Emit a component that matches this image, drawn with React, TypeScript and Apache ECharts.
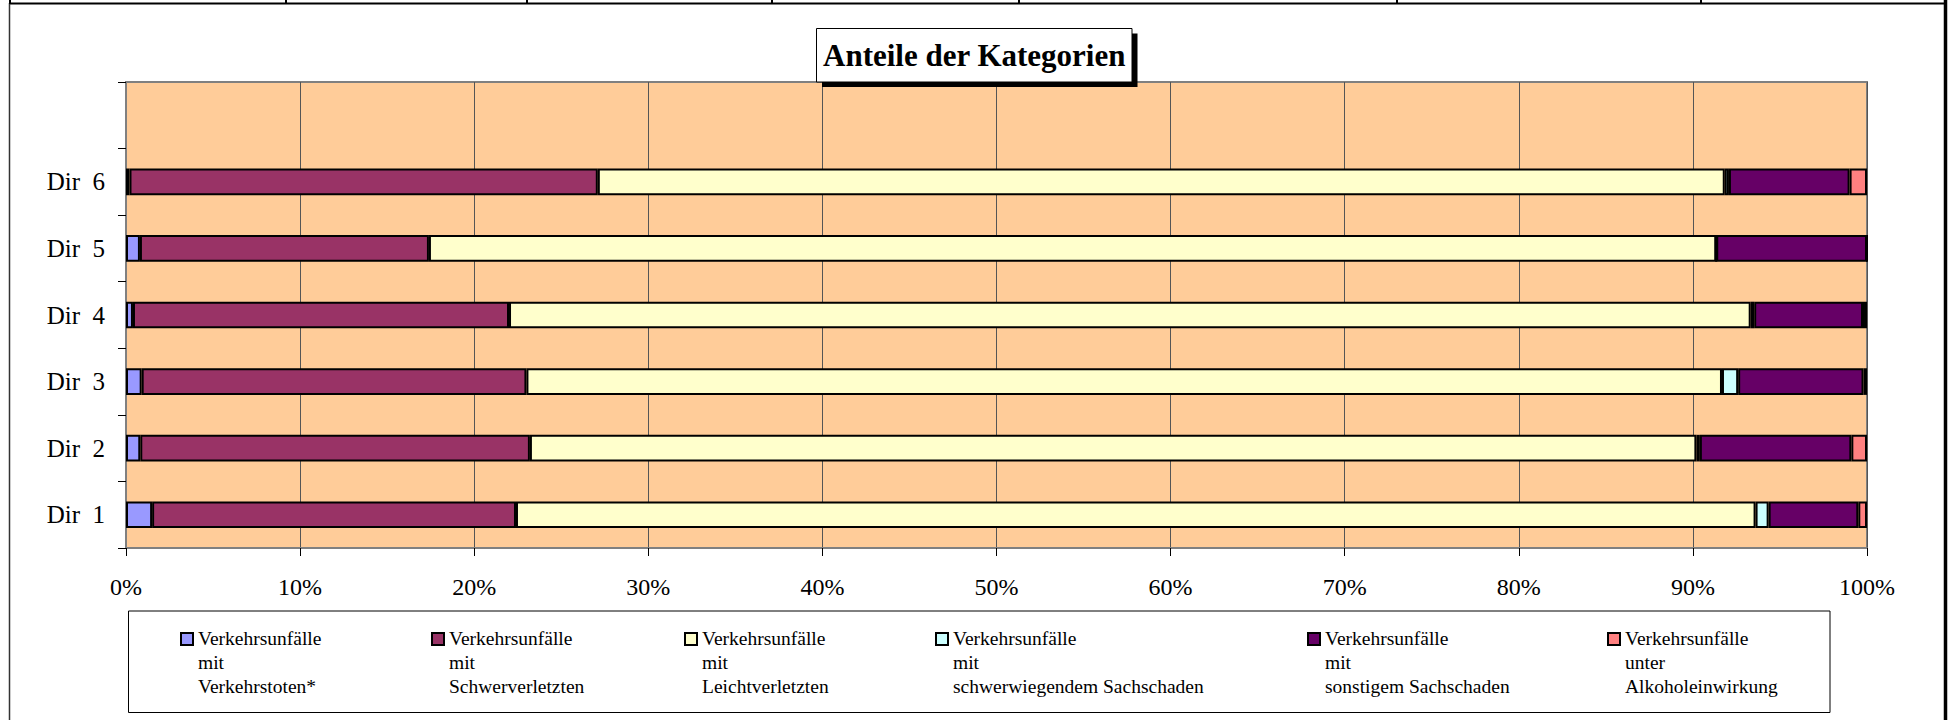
import React, { useEffect, useRef } from "react";
import * as echarts from "echarts";

// ---- data (percent shares) ----
const categories = ["Dir  1", "Dir  2", "Dir  3", "Dir  4", "Dir  5", "Dir  6", ""];
const verkehrstote = [1.5, 0.82, 0.9, 0.4, 0.8, 0.2];
const schwerverletzte = [20.9, 22.38, 22.1, 21.6, 16.6, 26.9];
const leichtverletzte = [71.2, 67.0, 68.67, 71.32, 73.94, 64.73];
const schwerSachschaden = [0.75, 0.2, 0.93, 0.2, 0, 0.24];
const sonstSachschaden = [5.15, 8.7, 7.2, 6.25, 8.66, 6.93];
const alkohol = [0.5, 0.9, 0.2, 0.23, 0, 1.0];

const seriesNames = [
  "Verkehrsunfälle mit Verkehrstoten*",
  "Verkehrsunfälle mit Schwerverletzten",
  "Verkehrsunfälle mit Leichtverletzten",
  "Verkehrsunfälle mit schwerwiegendem Sachschaden",
  "Verkehrsunfälle mit sonstigem Sachschaden",
  "Verkehrsunfälle unter Alkoholeinwirkung",
];
const legendLines = [
  ["Verkehrsunfälle", "mit", "Verkehrstoten*"],
  ["Verkehrsunfälle", "mit", "Schwerverletzten"],
  ["Verkehrsunfälle", "mit", "Leichtverletzten"],
  ["Verkehrsunfälle", "mit", "schwerwiegendem Sachschaden"],
  ["Verkehrsunfälle", "mit", "sonstigem Sachschaden"],
  ["Verkehrsunfälle", "unter", "Alkoholeinwirkung"],
];
const seriesValues = [verkehrstote, schwerverletzte, leichtverletzte, schwerSachschaden, sonstSachschaden, alkohol];
const seriesColors = ["#9999FF", "#993366", "#FFFFCC", "#CCFFFF", "#660066", "#FF8080"];
const legendX = [180, 431, 684, 935, 1307, 1607];

const titleText = "Anteile der Kategorien";
const SERIF = "Liberation Serif, Times New Roman, serif";

export default function App() {
  const ref = useRef<HTMLDivElement>(null);
  useEffect(() => {
    if (!ref.current) return;
    const chart = echarts.init(ref.current, undefined, { renderer: "svg" });

    const legendGraphics: any[] = [];
    legendLines.forEach((lines, i) => {
      legendGraphics.push({
        type: "rect",
        shape: { x: legendX[i] + 1, y: 633, width: 12, height: 12 },
        style: { fill: seriesColors[i], stroke: "#000", lineWidth: 2 },
        z: 20,
      });
      lines.forEach((line, j) => {
        legendGraphics.push({
          type: "text",
          x: legendX[i] + 18,
          y: 638 + j * 24,
          style: {
            text: line,
            fontFamily: SERIF,
            fontSize: 19.5,
            fill: "#000",
            verticalAlign: "middle",
            align: "left",
          },
          z: 20,
        });
      });
    });

    const frameDividers = [10, 286, 527, 772, 1019, 1397, 1701].map((x) => ({
      type: "line",
      shape: { x1: x, y1: 0, x2: x, y2: 4 },
      style: { stroke: "#000", lineWidth: 2 },
      z: 20,
    }));

    const option: any = {
      animation: false,
      backgroundColor: "#ffffff",
      textStyle: { fontFamily: SERIF },
      grid: {
        left: 126,
        right: 85,
        top: 82,
        bottom: 172,
        show: true,
        backgroundColor: "#FFCC99",
        borderColor: "#808080",
        borderWidth: 2,
      },
      xAxis: {
        type: "value",
        min: 0,
        max: 100,
        interval: 10,
        axisLine: { show: true, lineStyle: { color: "#808080", width: 2 } },
        axisTick: { show: true, length: 8, lineStyle: { color: "#000", width: 1 } },
        axisLabel: {
          formatter: "{value}%",
          color: "#000",
          fontSize: 24,
          fontFamily: SERIF,
          margin: 27,
        },
        splitLine: { show: true, lineStyle: { color: "#555", width: 1 } },
      },
      yAxis: {
        type: "category",
        data: categories,
        axisLine: { show: true, lineStyle: { color: "#808080", width: 2 } },
        axisTick: { show: true, length: 8, lineStyle: { color: "#000", width: 1 } },
        axisLabel: { color: "#000", fontSize: 25, fontFamily: SERIF, margin: 21 },
        splitLine: { show: false },
      },
      series: seriesNames.map((name, i) => ({
        name,
        type: "bar",
        stack: "total",
        barWidth: "40%",
        data: [...seriesValues[i], null],
        itemStyle: { color: seriesColors[i], borderColor: "#000", borderWidth: 2 },
      })),
      graphic: [
        // outer frame
        { type: "line", shape: { x1: 9.5, y1: 3.5, x2: 1946, y2: 3.5 }, style: { stroke: "#000", lineWidth: 2 }, z: 20 },
        { type: "line", shape: { x1: 9.5, y1: 3, x2: 9.5, y2: 720 }, style: { stroke: "#333", lineWidth: 1.5 }, z: 20 },
        { type: "line", shape: { x1: 1945.5, y1: 0, x2: 1945.5, y2: 720 }, style: { stroke: "#000", lineWidth: 3.5 }, z: 20 },
        ...frameDividers,
        // title box with shadow
        { type: "rect", shape: { x: 822, y: 33.5, width: 315.5, height: 53.5 }, style: { fill: "#000" }, z: 20 },
        { type: "rect", shape: { x: 816.5, y: 28.5, width: 315.5, height: 53.5 }, style: { fill: "#fff", stroke: "#000", lineWidth: 1 }, z: 21 },
        {
          type: "text",
          x: 974.25,
          y: 55.5,
          style: {
            text: titleText,
            fontFamily: SERIF,
            fontSize: 31,
            fontWeight: "bold",
            fill: "#000",
            align: "center",
            verticalAlign: "middle",
          },
          z: 22,
        },
        // legend box
        { type: "rect", shape: { x: 128.5, y: 611, width: 1701.5, height: 101.5 }, style: { fill: "#fff", stroke: "#000", lineWidth: 1 }, z: 19 },
        ...legendGraphics,
      ],
    };
    chart.setOption(option);
    return () => chart.dispose();
  }, []);

  return (
    <div
      ref={ref}
      style={{ position: "absolute", left: 0, top: 0, width: 1952, height: 720 }}
    />
  );
}
